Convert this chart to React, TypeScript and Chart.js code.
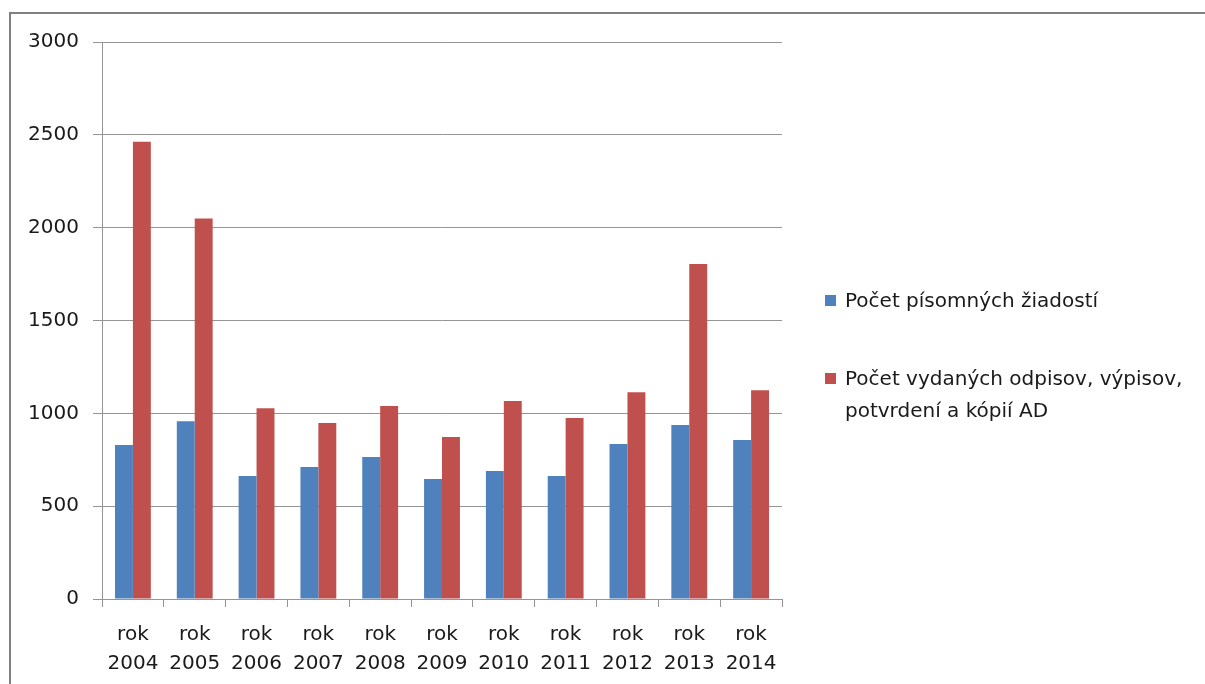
import React, { useEffect, useRef } from "react";
import { Chart, registerables } from "chart.js";

Chart.register(...registerables);

const categories: string[][] = [
  ["rok", "2004"], ["rok", "2005"], ["rok", "2006"], ["rok", "2007"], ["rok", "2008"],
  ["rok", "2009"], ["rok", "2010"], ["rok", "2011"], ["rok", "2012"], ["rok", "2013"], ["rok", "2014"],
];
const seriesNames = [
  "Počet písomných žiadostí",
  "Počet vydaných odpisov, výpisov, potvrdení a kópií AD",
];
const writtenRequests = [829, 958, 662, 711, 765, 646, 689, 662, 835, 937, 856];
const issuedCopies = [2463, 2050, 1028, 948, 1039, 872, 1066, 975, 1113, 1804, 1125];
const yTicks = [0, 500, 1000, 1500, 2000, 2500, 3000];

const BLUE = "#4F81BD";
const RED = "#C0504D";
const GRID = "#959595";
const FONT = "'DejaVu Sans', sans-serif";

export default function App() {
  const ref = useRef<HTMLCanvasElement>(null);
  useEffect(() => {
    if (!ref.current) return;
    const chart = new Chart(ref.current, {
      type: "bar",
      data: {
        labels: categories,
        datasets: [
          { label: seriesNames[0], data: writtenRequests, backgroundColor: BLUE, categoryPercentage: 0.58, barPercentage: 1 },
          { label: seriesNames[1], data: issuedCopies, backgroundColor: RED, categoryPercentage: 0.58, barPercentage: 1 },
        ],
      },
      options: {
        responsive: false,
        animation: false,
        layout: { padding: { left: 0, right: 423, top: 42, bottom: 0 } },
        plugins: { legend: { display: false }, tooltip: { enabled: false } },
        scales: {
          x: {
            grid: { offset: true, drawOnChartArea: false, drawTicks: true, tickLength: 8, color: GRID },
            border: { color: GRID, width: 1 },
            ticks: { color: "#1a1a1a", font: { family: FONT, size: 20, lineHeight: 1.45 }, padding: 13, maxRotation: 0, autoSkip: false },
            afterFit: (s: any) => { s.height = 85; },
          },
          y: {
            min: 0,
            max: 3000,
            afterBuildTicks: (s: any) => { s.ticks = yTicks.map((v) => ({ value: v })); },
            grid: { color: GRID, tickLength: 9, drawTicks: true },
            border: { color: GRID, width: 1 },
            ticks: { color: "#1a1a1a", font: { family: FONT, size: 20 }, padding: 14, callback: (v: any) => String(v) },
            afterFit: (s: any) => { s.width = 102; },
          },
        },
      },
    });
    return () => chart.destroy();
  }, []);

  return (
    <div style={{ position: "fixed", left: 0, top: 0, width: 1205, height: 684, background: "#fff", overflow: "hidden" }}>
      <div style={{ position: "absolute", left: 9, top: 12, width: 1300, height: 800, borderLeft: "2px solid #808080", borderTop: "2px solid #808080" }} />
      <canvas ref={ref} width={1205} height={684} style={{ position: "absolute", left: 0, top: 0, width: 1205, height: 684 }} />
      <div style={{ position: "absolute", left: 825, top: 295, width: 11, height: 11, background: BLUE }} />
      <div style={{ position: "absolute", left: 845, top: 284, fontFamily: FONT, fontSize: 20, lineHeight: "32px", color: "#1a1a1a", whiteSpace: "nowrap" }}>
        {seriesNames[0]}
      </div>
      <div style={{ position: "absolute", left: 825, top: 373, width: 11, height: 11, background: RED }} />
      <div style={{ position: "absolute", left: 845, top: 362, fontFamily: FONT, fontSize: 20, lineHeight: "32px", color: "#1a1a1a", whiteSpace: "nowrap" }}>
        Počet vydaných odpisov, výpisov,<br />potvrdení a kópií AD
      </div>
    </div>
  );
}
